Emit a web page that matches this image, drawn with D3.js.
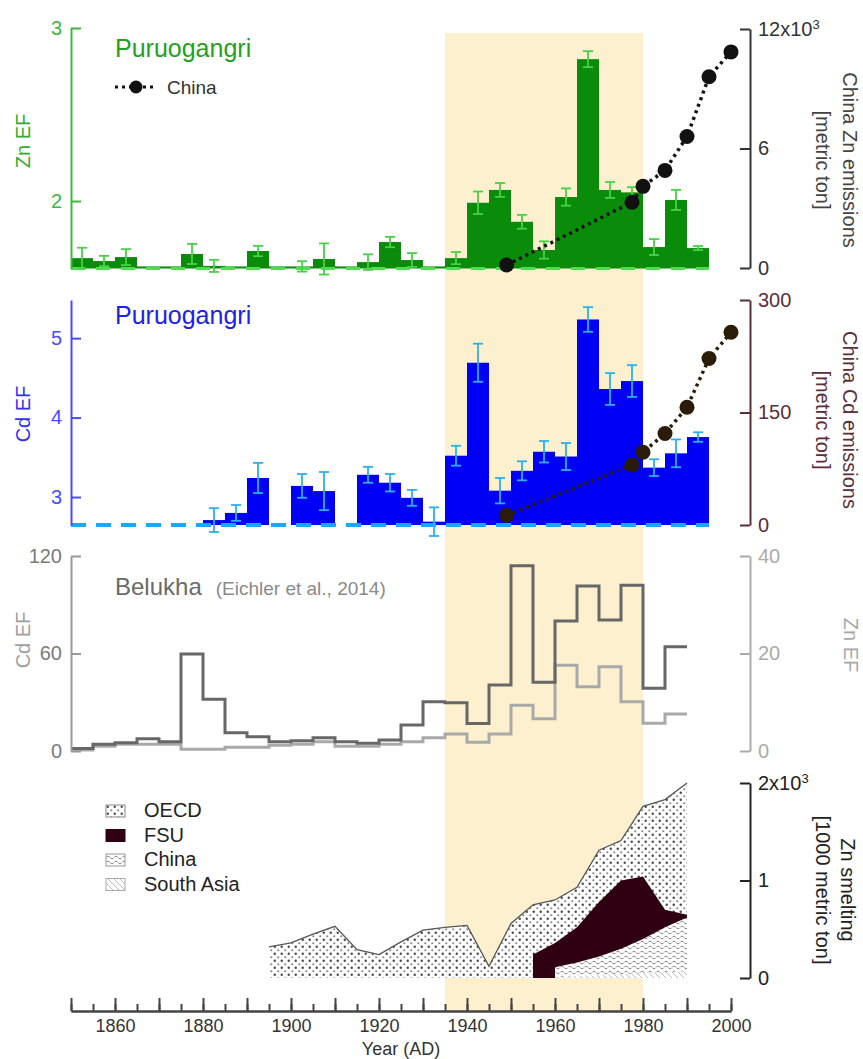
<!DOCTYPE html>
<html>
<head>
<meta charset="utf-8">
<script src="https://cdn.jsdelivr.net/npm/d3@7"></script>
<style>
  body { margin: 0; background: #fff; }
  svg { display: block; }
  text { font-family: "Liberation Sans", Arial, sans-serif; }
</style>
</head>
<body>
<svg id="chart" width="863" height="1059"></svg>
<script>
// ---------- Puruogangri ice core, 5-year bins (bin start years) ----------
const binYears = [1850,1855,1860,1865,1870,1875,1880,1885,1890,1895,1900,1905,1910,1915,1920,
                  1925,1930,1935,1940,1945,1950,1955,1960,1965,1970,1975,1980,1985,1990];
const binWidth = 5;

const znEF  = [1.67,1.653,1.676,1.622,1.622,1.694,1.625,1.622,1.711,1.622,1.622,1.665,1.622,1.647,1.763,
               1.659,1.622,1.67,1.99,2.064,1.88,1.717,2.023,2.82,2.064,2.05,1.734,2.006,1.728];
const znErr = [0.06,0.03,0.046,0,0,0.058,0.035,0,0.03,0,0.03,0.09,0,0.045,0.03,
               0.04,0,0.035,0.065,0.04,0.04,0.05,0.05,0.046,0.046,0.03,0.046,0.058,0.012];

const cdEF  = [null,null,null,null,null,null,2.71,2.80,3.24,null,3.14,3.075,null,3.28,3.18,
               2.99,2.69,3.52,4.69,3.08,3.33,3.57,3.51,5.235,4.36,4.46,3.37,3.55,3.755];
const cdErr = [null,null,null,null,null,null,0.15,0.10,0.19,null,0.15,0.24,null,0.10,0.11,
               0.10,0.18,0.125,0.24,0.16,0.12,0.135,0.17,0.155,0.2,0.2,0.105,0.175,0.06];

// ---------- China emissions ----------
const chinaYears = [1949, 1977.5, 1980, 1985, 1990, 1995, 2000];
const chinaZn    = [150, 3300, 4100, 4900, 6600, 9600, 10850];   // metric ton
const chinaCd    = [13, 80, 97, 122, 157, 222, 257];             // metric ton

// ---------- Belukha (Eichler et al., 2014), 5-year steps ----------
const belYears = [1850,1855,1860,1865,1870,1875,1880,1885,1890,1895,1900,1905,1910,1915,
                  1920,1925,1930,1935,1940,1945,1950,1955,1960,1965,1970,1975,1980,1985];
const belEnd = 1990;
const belCdEF = [1.5,4.1,5.1,7.6,5.7,59.7,31.8,11.3,8.8,5.7,6.3,8.2,5.7,4.7,
                 6.8,16,30.3,29.7,17,40.6,114,42.3,80,101.5,80.6,102,38.6,64.2];
const belZnEF = [0.2,1.0,1.4,1.4,1.4,0.35,0.35,0.75,0.75,1.2,1.4,1.9,1.0,1.0,
                 1.4,1.9,2.7,3.5,1.8,3.5,9.4,6.6,17.6,13.2,17.3,10.1,5.7,7.6];

// ---------- Zn smelting by region [1000 metric ton] ----------
const smeltYears = [1895,1900,1905,1910,1915,1920,1925,1930,1935,1940,
                    1945,1950,1955,1960,1965,1970,1975,1980,1985,1990];
const smeltOECD  = [320,360,450,530,290,240,370,490,520,540,
                    120,560,510,440,410,530,410,720,1130,1350];
const smeltFSU   = [null,null,null,null,null,null,null,null,null,null,
                    null,null,240,250,360,560,700,640,180,30];
const smeltChina = [null,null,null,null,null,null,null,null,null,null,
                    null,null,null,100,140,190,260,350,460,550];
const smeltSouthAsia = [null,null,null,null,null,null,null,null,null,null,
                    null,null,null,10,20,30,40,50,60,70];

const xTickYears = [1860,1880,1900,1920,1940,1960,1980,2000];
const shadeYears = [1935, 1980];

// ---------- setup ----------
const svg = d3.select("#chart");
const FONT = 20;
const x = d3.scaleLinear().domain([1850, 2000]).range([71, 731]);
const intFmt = d3.format("d");

const defs = svg.append("defs");
const dots = defs.append("pattern").attr("id", "dots")
  .attr("patternUnits", "userSpaceOnUse").attr("width", 7).attr("height", 7);
dots.append("rect").attr("width", 7).attr("height", 7).attr("fill", "#fff");
dots.append("circle").attr("cx", 1.75).attr("cy", 1.75).attr("r", 1.2).attr("fill", "#4a4a4a");
dots.append("circle").attr("cx", 5.25).attr("cy", 5.25).attr("r", 1.1).attr("fill", "#8a8a8a");

const waves = defs.append("pattern").attr("id", "waves")
  .attr("patternUnits", "userSpaceOnUse").attr("width", 8).attr("height", 5);
waves.append("rect").attr("width", 8).attr("height", 5).attr("fill", "#fff");
waves.append("path").attr("d", "M0,2.5 C1,0.8 3,0.8 4,2.5 S7,4.2 8,2.5")
  .attr("fill", "none").attr("stroke", "#6a6a6a").attr("stroke-width", 0.8);

const hatch = defs.append("pattern").attr("id", "hatch")
  .attr("patternUnits", "userSpaceOnUse").attr("width", 6).attr("height", 6);
hatch.append("rect").attr("width", 6).attr("height", 6).attr("fill", "#fff");
hatch.append("path").attr("d", "M0,0 L6,6").attr("stroke", "#aaa").attr("stroke-width", 0.8);

// shaded period
svg.append("rect")
  .attr("x", x(shadeYears[0])).attr("width", x(shadeYears[1]) - x(shadeYears[0]))
  .attr("y", 33).attr("height", 1011 - 33)
  .attr("fill", "#fdf0cf");

function styleAxis(g, color, fs) {
  g.attr("font-size", fs || FONT).attr("font-family", "Liberation Sans, Arial, sans-serif");
  g.select(".domain").attr("stroke", color).attr("stroke-width", 2);
  g.selectAll(".tick line").attr("stroke", color).attr("stroke-width", 2);
  g.selectAll(".tick text").attr("fill", color);
}
function vLabel(lines, xs, cy, color, rot) {
  lines.forEach((t, i) => {
    svg.append("text")
      .attr("transform", `translate(${xs[i]},${cy}) rotate(${rot})`)
      .attr("text-anchor", "middle").attr("dominant-baseline", "central")
      .attr("font-size", FONT).attr("fill", color).text(t);
  });
}
function sciFormat(max, base) {
  return d => d === 0 ? "0" : (d === max ? null : String(d / base));
}

// ================= Panel 1: Zn EF =================
const yZn = d3.scaleLinear().domain([1.61, 3]).range([268.5, 28]);
const yZnChina = d3.scaleLinear().domain([0, 12000]).range([268, 29]);
const znBase = 1.61;

const p1 = svg.append("g");
p1.selectAll("rect.bar").data(binYears).join("rect")
  .attr("x", d => x(d)).attr("width", d => x(d + binWidth) - x(d))
  .attr("y", (d, i) => yZn(znEF[i])).attr("height", (d, i) => yZn(znBase) - yZn(znEF[i]))
  .attr("fill", "#0a8c0a");
p1.append("line")
  .attr("x1", x(binYears[0])).attr("x2", x(binYears[binYears.length - 1] + binWidth))
  .attr("y1", yZn(znBase)).attr("y2", yZn(znBase))
  .attr("stroke", "#4fdc4f").attr("stroke-width", 3).attr("stroke-dasharray", "14,11");
binYears.forEach((yr, i) => {
  const e = znErr[i];
  if (!e) return;
  const cx = x(yr + binWidth / 2);
  const g = p1.append("g").attr("stroke", "#46d246").attr("stroke-width", 1.8);
  g.append("line").attr("x1", cx).attr("x2", cx).attr("y1", yZn(znEF[i] - e)).attr("y2", yZn(znEF[i] + e));
  [znEF[i] - e, znEF[i] + e].forEach(v =>
    g.append("line").attr("x1", cx - 5).attr("x2", cx + 5).attr("y1", yZn(v)).attr("y2", yZn(v)));
});
const znChinaPts = chinaYears.map((yr, i) => [x(yr), yZnChina(chinaZn[i])]);
p1.append("path").attr("d", d3.line()(znChinaPts))
  .attr("fill", "none").attr("stroke", "#111").attr("stroke-width", 3.5).attr("stroke-dasharray", "3,4");
p1.selectAll("circle.pt").data(znChinaPts).join("circle")
  .attr("cx", d => d[0]).attr("cy", d => d[1]).attr("r", 7.5).attr("fill", "#111");

const axZnL = svg.append("g").attr("transform", `translate(${x(1850)},0)`)
  .call(d3.axisLeft(yZn).tickValues([2, 3]).tickSize(-10).tickSizeOuter(0).tickPadding(9).tickFormat(intFmt));
styleAxis(axZnL, "#3cb83c");
const axZnR = svg.append("g").attr("transform", "translate(750,0)")
  .call(d3.axisRight(yZnChina).tickValues([0, 6000, 12000]).tickSize(-10).tickSizeOuter(0).tickPadding(8)
    .tickFormat(sciFormat(12000, 1000)));
styleAxis(axZnR, "#333");
axZnR.selectAll(".tick text").filter(d => d === 12000)
  .call(t => { t.append("tspan").text("12x10"); t.append("tspan").attr("dy", "-0.55em").attr("font-size", 13).text("3"); });

svg.append("text").attr("x", 115).attr("y", 57).attr("font-size", 25).attr("fill", "#24a024").text("Puruogangri");
svg.append("line").attr("x1", 115).attr("x2", 157).attr("y1", 87).attr("y2", 87)
  .attr("stroke", "#111").attr("stroke-width", 3).attr("stroke-dasharray", "3,4");
svg.append("circle").attr("cx", 136).attr("cy", 87).attr("r", 6.5).attr("fill", "#111");
svg.append("text").attr("x", 167).attr("y", 94).attr("font-size", 19).attr("fill", "#333").text("China");
vLabel(["Zn EF"], [23], 141, "#33aa33", -90);
vLabel(["China Zn emissions", "[metric ton]"], [850, 823], 160, "#444", 90);

// ================= Panel 2: Cd EF =================
const yCd = d3.scaleLinear().domain([2.648, 5.48]).range([525, 300]);
const yCdChina = d3.scaleLinear().domain([0, 300]).range([525, 300]);
const cdBase = 2.648;

const p2 = svg.append("g");
const cdBins = binYears.map((yr, i) => ({ yr, v: cdEF[i], e: cdErr[i] })).filter(d => d.v != null);
p2.selectAll("rect.bar").data(cdBins).join("rect")
  .attr("x", d => x(d.yr)).attr("width", d => x(d.yr + binWidth) - x(d.yr))
  .attr("y", d => yCd(d.v)).attr("height", d => yCd(cdBase) - yCd(d.v))
  .attr("fill", "#0000f5");
p2.append("line")
  .attr("x1", x(binYears[0])).attr("x2", x(binYears[binYears.length - 1] + binWidth))
  .attr("y1", yCd(cdBase)).attr("y2", yCd(cdBase))
  .attr("stroke", "#1aa8ff").attr("stroke-width", 4).attr("stroke-dasharray", "15,10");
cdBins.forEach(d => {
  const cx = x(d.yr + binWidth / 2);
  const g = p2.append("g").attr("stroke", "#2ab0ef").attr("stroke-width", 1.8);
  g.append("line").attr("x1", cx).attr("x2", cx).attr("y1", yCd(d.v - d.e)).attr("y2", yCd(d.v + d.e));
  [d.v - d.e, d.v + d.e].forEach(v =>
    g.append("line").attr("x1", cx - 5).attr("x2", cx + 5).attr("y1", yCd(v)).attr("y2", yCd(v)));
});
const cdChinaPts = chinaYears.map((yr, i) => [x(yr), yCdChina(chinaCd[i])]);
p2.append("path").attr("d", d3.line()(cdChinaPts))
  .attr("fill", "none").attr("stroke", "#2b1c0a").attr("stroke-width", 3.5).attr("stroke-dasharray", "3,4");
p2.selectAll("circle.pt").data(cdChinaPts).join("circle")
  .attr("cx", d => d[0]).attr("cy", d => d[1]).attr("r", 7.5).attr("fill", "#2b1c0a");

const axCdL = svg.append("g").attr("transform", `translate(${x(1850)},0)`)
  .call(d3.axisLeft(yCd).tickValues([3, 4, 5]).tickSize(-10).tickSizeOuter(0).tickPadding(9).tickFormat(intFmt));
styleAxis(axCdL, "#4a4aff");
const axCdR = svg.append("g").attr("transform", "translate(750,0)")
  .call(d3.axisRight(yCdChina).tickValues([0, 150, 300]).tickSize(-10).tickSizeOuter(0).tickPadding(8));
styleAxis(axCdR, "#5c2d3a");

svg.append("text").attr("x", 115).attr("y", 324).attr("font-size", 25).attr("fill", "#2020ee").text("Puruogangri");
vLabel(["Cd EF"], [23], 414, "#3333ee", -90);
vLabel(["China Cd emissions", "[metric ton]"], [850, 823], 420, "#5c2d3a", 90);

// ================= Panel 3: Belukha =================
const yBelL = d3.scaleLinear().domain([0, 120]).range([751, 556]);
const yBelR = d3.scaleLinear().domain([0, 40]).range([751, 556]);
const stepLine = d3.line().curve(d3.curveStepAfter);
const belZnPts = belYears.map((yr, i) => [x(yr), yBelR(belZnEF[i])]);
belZnPts.push([x(belEnd), yBelR(belZnEF[belZnEF.length - 1])]);
const belCdPts = belYears.map((yr, i) => [x(yr), yBelL(belCdEF[i])]);
belCdPts.push([x(belEnd), yBelL(belCdEF[belCdEF.length - 1])]);
svg.append("path").attr("d", stepLine(belZnPts)).attr("fill", "none")
  .attr("stroke", "#a9a9a9").attr("stroke-width", 3);
svg.append("path").attr("d", stepLine(belCdPts)).attr("fill", "none")
  .attr("stroke", "#676767").attr("stroke-width", 3);

const axBelL = svg.append("g").attr("transform", `translate(${x(1850)},0)`)
  .call(d3.axisLeft(yBelL).tickValues([0, 60, 120]).tickSize(-10).tickSizeOuter(0).tickPadding(9));
styleAxis(axBelL, "#999");
axBelL.selectAll(".tick text").attr("fill", "#7a7a7a");
const axBelR = svg.append("g").attr("transform", "translate(750,0)")
  .call(d3.axisRight(yBelR).tickValues([0, 20, 40]).tickSize(-10).tickSizeOuter(0).tickPadding(8));
styleAxis(axBelR, "#aaa");

const belTitle = svg.append("text").attr("x", 115).attr("y", 595);
belTitle.append("tspan").attr("font-size", 24).attr("fill", "#6a6a6a").text("Belukha");
belTitle.append("tspan").attr("dx", 14).attr("font-size", 19).attr("fill", "#8a8a8a").text("(Eichler et al., 2014)");
vLabel(["Cd EF"], [23], 640, "#a0a0a0", -90);
vLabel(["Zn EF"], [851], 645, "#a8a8a8", 90);

// ================= Panel 4: Zn smelting =================
const ySm = d3.scaleLinear().domain([0, 2000]).range([978, 783]);
const smRows = smeltYears.map((yr, i) => {
  const sa = smeltSouthAsia[i], ch = smeltChina[i], fsu = smeltFSU[i];
  const cSA = sa || 0, cCh = cSA + (ch || 0), cFSU = cCh + (fsu || 0);
  return { yr, sa, ch, fsu, cSA, cCh, cFSU, total: cFSU + smeltOECD[i] };
});
const areaFor = key => d3.area().x(d => x(d.yr)).y0(ySm(0)).y1(d => ySm(d[key]));
svg.append("path").datum(smRows).attr("d", areaFor("total")).attr("fill", "url(#dots)");
svg.append("path").datum(smRows).attr("d", d3.line().x(d => x(d.yr)).y(d => ySm(d.total)))
  .attr("fill", "none").attr("stroke", "#555").attr("stroke-width", 1.3);
svg.append("path").datum(smRows.filter(d => d.fsu != null)).attr("d", areaFor("cFSU")).attr("fill", "#2e0012");
svg.append("path").datum(smRows.filter(d => d.ch != null)).attr("d", areaFor("cCh")).attr("fill", "url(#waves)");
svg.append("path").datum(smRows.filter(d => d.sa != null)).attr("d", areaFor("cSA")).attr("fill", "url(#hatch)");

const axSm = svg.append("g").attr("transform", "translate(750,0)")
  .call(d3.axisRight(ySm).tickValues([0, 1000, 2000]).tickSize(-10).tickSizeOuter(0).tickPadding(8)
    .tickFormat(sciFormat(2000, 1000)));
styleAxis(axSm, "#222");
axSm.selectAll(".tick text").filter(d => d === 2000)
  .call(t => { t.append("tspan").text("2x10"); t.append("tspan").attr("dy", "-0.55em").attr("font-size", 13).text("3"); });
vLabel(["Zn smelting", "[1000 metric ton]"], [848, 823], 890, "#222", 90);

// legend
const legendItems = [
  { name: "OECD", fill: "url(#dots)", stroke: "#888" },
  { name: "FSU", fill: "#2e0012", stroke: "#2e0012" },
  { name: "China", fill: "url(#waves)", stroke: "#999" },
  { name: "South Asia", fill: "url(#hatch)", stroke: "#aaa" }
];
const lg = svg.append("g").attr("transform", "translate(106,805)");
legendItems.forEach((it, i) => {
  lg.append("rect").attr("x", 0).attr("y", i * 24.5).attr("width", 19).attr("height", 12)
    .attr("fill", it.fill).attr("stroke", it.stroke).attr("stroke-width", 1);
  lg.append("text").attr("x", 38).attr("y", i * 24.5 + 12).attr("font-size", FONT)
    .attr("fill", "#222").text(it.name);
});

// ================= X axis =================
const xAxisY = 1011;
const minorYears = d3.range(1850, 2001, 5);
const axMinor = svg.append("g").attr("transform", `translate(0,${xAxisY})`)
  .call(d3.axisBottom(x).tickValues(minorYears).tickSize(-7).tickSizeOuter(0).tickFormat(""));
styleAxis(axMinor, "#444");
const axMajor = svg.append("g").attr("transform", `translate(0,${xAxisY})`)
  .call(d3.axisBottom(x).tickValues(minorYears.filter(y => y % 10 === 0)).tickSize(-13).tickSizeOuter(0)
    .tickPadding(8).tickFormat(d => xTickYears.includes(d) ? String(d) : ""));
styleAxis(axMajor, "#444");
axMajor.selectAll(".tick text").attr("fill", "#333").attr("font-size", 18);
svg.append("text").attr("x", 401).attr("y", 1055).attr("text-anchor", "middle")
  .attr("font-size", 18).attr("fill", "#333").text("Year (AD)");
</script>
</body>
</html>
